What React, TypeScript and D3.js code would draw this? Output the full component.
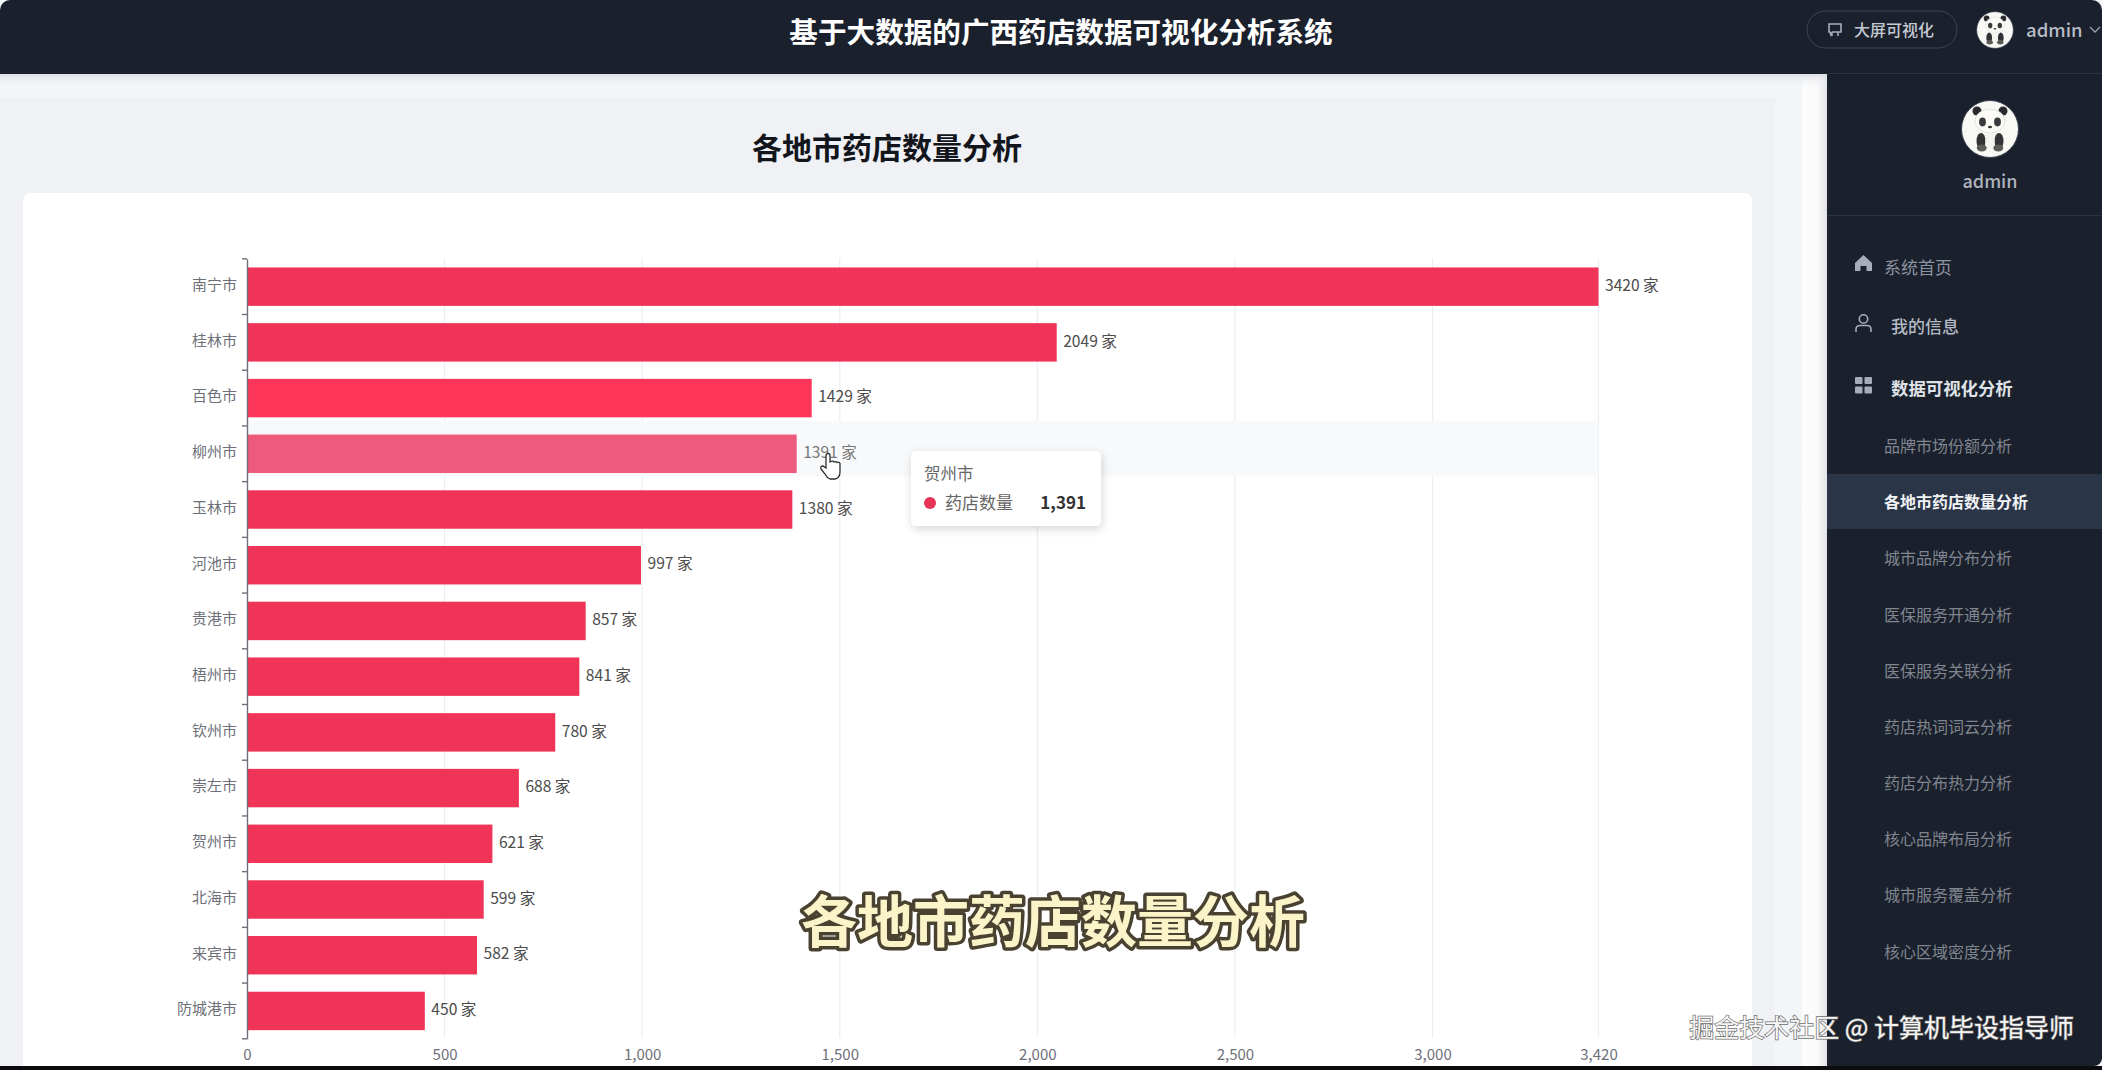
import React, { useRef, useEffect } from "react";
import * as d3 from "d3";

const cities = ["南宁市", "桂林市", "百色市", "柳州市", "玉林市", "河池市", "贵港市", "梧州市", "钦州市", "崇左市", "贺州市", "北海市", "来宾市", "防城港市"];
const shopCounts = [3420, 2049, 1429, 1391, 1380, 997, 857, 841, 780, 688, 621, 599, 582, 450];
const xTicks = [0, 500, 1000, 1500, 2000, 2500, 3000, 3420];
const subMenu = ["品牌市场份额分析", "各地市药店数量分析", "城市品牌分布分析", "医保服务开通分析", "医保服务关联分析", "药店热词词云分析", "药店分布热力分析", "核心品牌布局分析", "城市服务覆盖分析", "核心区域密度分析"];

const FONT = '"Noto Sans CJK SC", "Noto Sans", sans-serif';
const NAVY = "#1a202c";

type G = d3.Selection<SVGGElement, unknown, null, undefined>;

// little cartoon panda for both avatars
function panda(g: G, cx: number, cy: number, r: number) {
  const a = g.append("g").attr("transform", `translate(${cx},${cy}) scale(${r / 28})`);
  a.append("circle").attr("r", 28.5).attr("fill", "#f8f8f5").attr("stroke", "#3a4150").attr("stroke-width", 1);
  [-13, 13].forEach((dx) => {
    a.append("circle").attr("cx", dx).attr("cy", -18).attr("r", 4.5).attr("fill", "#2a2a2e");
  });
  [-7.5, 7.5].forEach((dx) => {
    a.append("ellipse").attr("cx", dx * 1.2).attr("cy", 12).attr("rx", 4.5).attr("ry", 8).attr("fill", "#333336");
    a.append("ellipse").attr("cx", dx * 1.1).attr("cy", 19).attr("rx", 5).attr("ry", 3.4).attr("fill", "#5b5a57");
  });
  a.append("ellipse").attr("cy", -8).attr("rx", 15).attr("ry", 12).attr("fill", "#fbfaf6").attr("stroke", "#c9c9c6").attr("stroke-width", 0.5);
  [-7.5, 7.5].forEach((dx) => {
    a.append("ellipse").attr("cx", dx).attr("cy", -7).attr("rx", 3.4).attr("ry", 4.4).attr("fill", "#3a3a3e");
  });
  a.append("ellipse").attr("cy", -2).attr("rx", 2).attr("ry", 1.3).attr("fill", "#333");
  a.append("ellipse").attr("cy", 12).attr("rx", 4.6).attr("ry", 9).attr("fill", "#f4f3ee");
}

const App: React.FC = () => {
  const svgRef = useRef<SVGSVGElement | null>(null);

  useEffect(() => {
    if (!svgRef.current) return;
    const svg = d3.select(svgRef.current);
    svg.selectAll("*").remove();
    svg.style("font-family", FONT);

    const defs = svg.append("defs");
    const gutter = defs.append("linearGradient").attr("id", "gutter");
    [["0%", "#fdfdfd"], ["60%", "#fafafb"], ["100%", "#e2e3e6"]].forEach(([o, c]) =>
      gutter.append("stop").attr("offset", o).attr("stop-color", c)
    );
    const topShade = defs.append("linearGradient").attr("id", "topShade").attr("x2", "0").attr("y2", "1");
    [["0%", "#dde0e4", 1], ["100%", "#f3f6f9", 0]].forEach(([o, c, a]) =>
      topShade.append("stop").attr("offset", o as string).attr("stop-color", c as string).attr("stop-opacity", a as number)
    );
    const soft = defs.append("filter").attr("id", "soft").attr("x", "-20%").attr("y", "-30%").attr("width", "140%").attr("height", "170%");
    soft.append("feDropShadow").attr("dx", 1).attr("dy", 3).attr("stdDeviation", 5).attr("flood-color", "#000").attr("flood-opacity", 0.16);

    // page frame
    const page = svg.append("g");
    page.append("rect").attr("width", 2102).attr("height", 1070).attr("fill", "#f3f6f9");
    page.append("rect").attr("y", 98).attr("width", 1775).attr("height", 968).attr("fill", "#eff1f5");
    page.append("rect").attr("x", 1802).attr("y", 74).attr("width", 25).attr("height", 992).attr("fill", "url(#gutter)");
    page.append("rect").attr("y", 74).attr("width", 1827).attr("height", 14).attr("fill", "url(#topShade)");
    page.append("rect").attr("x", 23).attr("y", 193).attr("width", 1729).attr("height", 900).attr("rx", 8).attr("fill", "#fff");
    page.append("rect").attr("y", 1066).attr("width", 2102).attr("height", 4).attr("fill", "#0c0c0e");

    // header
    const header = svg.append("g");
    header.append("path").attr("d", "M0,74V10A10,10 0 0 1 10,0H2092A10,10 0 0 1 2102,10V74Z").attr("fill", NAVY);
    header.append("text").attr("x", 1061).attr("y", 30.5).attr("text-anchor", "middle").attr("dominant-baseline", "central")
      .attr("font-size", 28.6).attr("font-weight", 700).attr("fill", "#fff").text("基于大数据的广西药店数据可视化分析系统");
    header.append("rect").attr("x", 1807).attr("y", 11).attr("width", 150).attr("height", 37).attr("rx", 18.5)
      .attr("fill", "none").attr("stroke", "#3d4656");
    header.append("path").attr("d", "M1829,24h12v8h-8.5l-1.5,3l-1-3h-1zM1832,32v4M1838,32v4").attr("fill", "none").attr("stroke", "#a8afbb").attr("stroke-width", 1.6);
    header.append("text").attr("x", 1854).attr("y", 29).attr("dominant-baseline", "central").attr("font-size", 16).attr("font-weight", 500).attr("fill", "#c4c9d2").text("大屏可视化");
    panda(header, 1995, 30, 18);
    header.append("text").attr("x", 2026).attr("y", 29).attr("dominant-baseline", "central").attr("font-size", 18.5).attr("font-weight", 500).attr("fill", "#b6bcc6").text("admin");
    header.append("path").attr("d", "M2090,27l5,5l5,-5").attr("fill", "none").attr("stroke", "#9aa1ad").attr("stroke-width", 1.3);

    // sidebar
    const side = svg.append("g");
    side.append("path").attr("d", "M1827,73H2102V1058A8,8 0 0 1 2094,1066H1827Z").attr("fill", NAVY);
    side.append("line").attr("x1", 1827).attr("x2", 2102).attr("y1", 73.5).attr("y2", 73.5).attr("stroke", "#2b3340");
    side.append("line").attr("x1", 1827).attr("x2", 2102).attr("y1", 215.5).attr("y2", 215.5).attr("stroke", "#2b3340");
    panda(side, 1990, 129, 28);
    side.append("text").attr("x", 1990).attr("y", 180).attr("text-anchor", "middle").attr("dominant-baseline", "central")
      .attr("font-size", 18).attr("font-weight", 500).attr("fill", "#aeb4be").text("admin");

    side.append("path").attr("d", "M1855,263l8.5,-8l8.5,8v8h-5.5v-5h-6v5h-5.5z").attr("fill", "#a6adb9");
    side.append("text").attr("x", 1884).attr("y", 266).attr("dominant-baseline", "central").attr("font-size", 17).attr("fill", "#8c93a0").text("系统首页");
    side.append("circle").attr("cx", 1863.5).attr("cy", 319).attr("r", 4.2).attr("fill", "none").attr("stroke", "#a6adb9").attr("stroke-width", 1.6);
    side.append("path").attr("d", "M1856,332v-2.5q0,-4 4,-4h7q4,0 4,4v2.5").attr("fill", "none").attr("stroke", "#a6adb9").attr("stroke-width", 1.6);
    side.append("text").attr("x", 1891).attr("y", 325).attr("dominant-baseline", "central").attr("font-size", 17).attr("font-weight", 500).attr("fill", "#b4bac4").text("我的信息");
    [[1855, 377], [1864.5, 377], [1855, 386.5], [1864.5, 386.5]].forEach(([ix, iy]) =>
      side.append("rect").attr("x", ix).attr("y", iy).attr("width", 7.5).attr("height", 7).attr("rx", 1).attr("fill", "#a6adb9")
    );
    side.append("text").attr("x", 1891).attr("y", 387.5).attr("dominant-baseline", "central").attr("font-size", 17.4).attr("font-weight", 700).attr("fill", "#dfe2e7").text("数据可视化分析");

    const menuY = d3.scalePoint<string>().domain(subMenu).range([445, 950.5]);
    side.append("rect").attr("x", 1827).attr("y", 474).attr("width", 275).attr("height", 55).attr("fill", "#2a3547");
    side.selectAll("text.sub").data(subMenu).enter().append("text").attr("class", "sub")
      .attr("x", 1884).attr("y", (d) => menuY(d) || 0).attr("dominant-baseline", "central").attr("font-size", 16)
      .attr("font-weight", (d, i) => (i === 1 ? 700 : 400)).attr("fill", (d, i) => (i === 1 ? "#f1f3f5" : "#80868f")).text((d) => d);

    // page title
    svg.append("text").attr("x", 887).attr("y", 146).attr("text-anchor", "middle").attr("dominant-baseline", "central")
      .attr("font-size", 30).attr("font-weight", 700).attr("fill", "#12161c").text("各地市药店数量分析");

    // chart
    const x = d3.scaleLinear().domain([0, 3420]).range([247, 1598.5]);
    const y = d3.scaleBand<string>().domain(cities).range([258.8, 1038.8]).paddingInner(0.31).paddingOuter(0.155);
    const chart = svg.append("g");
    const hovered = "柳州市";

    chart.selectAll("line.grid").data(xTicks.slice(1)).enter().append("line").attr("class", "grid")
      .attr("x1", (d) => x(d)).attr("x2", (d) => x(d)).attr("y1", 258).attr("y2", 1038)
      .attr("stroke", "#eceef1").attr("stroke-width", 1.2);

    const rowTop = (y(hovered) || 0) - y.step() * y.paddingOuter();
    chart.append("rect").attr("x", x(0)).attr("y", rowTop - 5).attr("width", x(3420) - x(0)).attr("height", y.step())
      .attr("fill", "#f6f8fb").attr("opacity", 0.9);

    chart.selectAll("rect.bar").data(cities).enter().append("rect").attr("class", "bar")
      .attr("x", x(0)).attr("y", (d) => y(d) || 0).attr("height", y.bandwidth())
      .attr("width", (d, i) => x(shopCounts[i]) - x(0))
      .attr("fill", (d) => (d === hovered ? "#ee5a7b" : d === "百色市" ? "#fd3558" : "#ef3457"));

    const yAxis = chart.append("g").attr("transform", `translate(${x(0)},0)`).call(d3.axisLeft(y).tickSize(0).tickPadding(10));
    yAxis.select(".domain").attr("stroke", "#6e7079").attr("stroke-width", 1.4);
    yAxis.selectAll("text").attr("font-family", FONT).attr("font-size", 15).attr("fill", "#6e7079").attr("y", -1.4);
    d3.range(cities.length + 1).forEach((i) => {
      const ty = y.range()[0] + i * y.step();
      yAxis.append("line").attr("x1", -5).attr("x2", 0).attr("y1", ty).attr("y2", ty).attr("stroke", "#6e7079").attr("stroke-width", 1.4);
    });

    const xAxis = chart.append("g").attr("transform", "translate(0,1038)")
      .call(d3.axisBottom(x).tickValues(xTicks).tickSize(0).tickPadding(11).tickFormat((d) => d3.format(",")(d as number)));
    xAxis.select(".domain").remove();
    xAxis.selectAll("text").attr("font-family", FONT).attr("font-size", 15).attr("fill", "#6e7079");

    chart.selectAll("text.val").data(cities).enter().append("text").attr("class", "val")
      .attr("x", (d, i) => x(shopCounts[i]) + 6.5).attr("y", (d) => (y(d) || 0) + y.bandwidth() / 2 - 2.8)
      .attr("dominant-baseline", "central").attr("font-size", 15.6).attr("fill", (d) => (d === hovered ? "#777" : "#4c4c4c"))
      .text((d, i) => `${shopCounts[i]} 家`);

    // hand cursor
    svg.append("path").attr("transform", "translate(820,452)")
      .attr("d", "M6,16V3.5a2,2 0 0 1 4,0V10l1,-0.5a2,2 0 0 1 3,0.5a2,2 0 0 1 3,0.5a2,2 0 0 1 3,1V20q0,6 -5,7h-5q-3,-1 -5,-5l-4,-5q-1,-3 2,-3z")
      .attr("fill", "#fff").attr("stroke", "#2d2d2d").attr("stroke-width", 1.3);

    // tooltip
    const tip = svg.append("g").attr("transform", "translate(911,451)");
    tip.append("rect").attr("width", 190).attr("height", 75).attr("rx", 5).attr("fill", "#fff").attr("filter", "url(#soft)");
    tip.append("text").attr("x", 13).attr("y", 21.5).attr("dominant-baseline", "central").attr("font-size", 16.5).attr("fill", "#666").text(cities[10]);
    tip.append("circle").attr("cx", 19).attr("cy", 52).attr("r", 6).attr("fill", "#e63358");
    tip.append("text").attr("x", 34).attr("y", 50.5).attr("dominant-baseline", "central").attr("font-size", 17).attr("fill", "#666").text("药店数量");
    tip.append("text").attr("x", 175).attr("y", 50.5).attr("text-anchor", "end").attr("dominant-baseline", "central")
      .attr("font-size", 17).attr("font-weight", 700).attr("fill", "#333").text(d3.format(",")(shopCounts[3]));

    // video caption and watermark
    svg.append("text").attr("x", 1053).attr("y", 917).attr("text-anchor", "middle").attr("dominant-baseline", "central")
      .attr("font-size", 56).attr("font-weight", 700).attr("fill", "#fbf4c9").attr("stroke", "#4a4231").attr("stroke-width", 7)
      .attr("stroke-linejoin", "round").attr("paint-order", "stroke").text("各地市药店数量分析");
    svg.append("text").attr("x", 2074).attr("y", 1026).attr("text-anchor", "end").attr("dominant-baseline", "central")
      .attr("font-size", 25).attr("fill", "#f6f6f6").attr("stroke", "#6a6a6a").attr("stroke-width", 1.4)
      .attr("paint-order", "stroke").text("掘金技术社区 @ 计算机毕设指导师");
  }, []);

  return <svg ref={svgRef} width={2102} height={1070} style={{ position: "absolute", left: 0, top: 0, display: "block" }} />;
};

export default App;
